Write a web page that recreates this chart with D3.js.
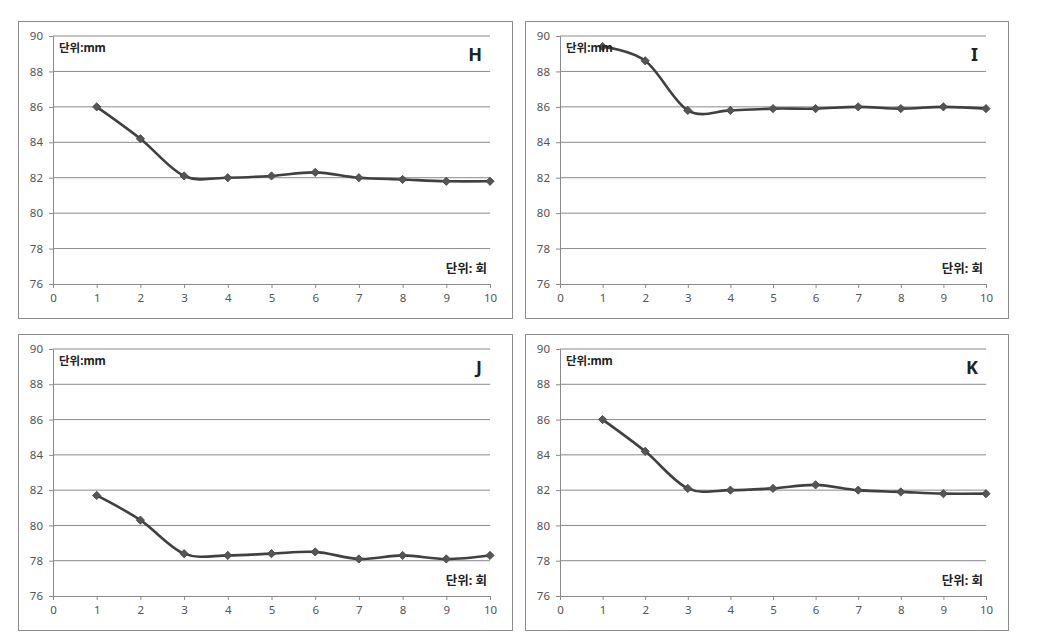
<!DOCTYPE html>
<html>
<head>
<meta charset="utf-8">
<script src="https://cdn.jsdelivr.net/npm/d3@7"></script>
<style>
  body { margin: 0; background: #fff; }
  svg text { font-family: "Noto Sans", "Noto Sans CJK KR", sans-serif; }
</style>
</head>
<body>
<svg id="chart" width="1053" height="635"></svg>
<script>
// data
const rounds = [1, 2, 3, 4, 5, 6, 7, 8, 9, 10];
const xTicks = [0, 1, 2, 3, 4, 5, 6, 7, 8, 9, 10];
const yTicks = [76, 78, 80, 82, 84, 86, 88, 90];
const panelNames = ['H', 'I', 'J', 'K'];
const valuesH = [86.0, 84.2, 82.1, 82.0, 82.1, 82.3, 82.0, 81.9, 81.8, 81.8];
const valuesI = [89.4, 88.6, 85.8, 85.8, 85.9, 85.9, 86.0, 85.9, 86.0, 85.9];
const valuesJ = [81.7, 80.3, 78.4, 78.3, 78.4, 78.5, 78.1, 78.3, 78.1, 78.3];
const valuesK = [86.0, 84.2, 82.1, 82.0, 82.1, 82.3, 82.0, 81.9, 81.8, 81.8];
const allValues = [valuesH, valuesI, valuesJ, valuesK];

// panel boxes on the page
const boxes = [
  { x: 18, y: 21, w: 494, h: 297 },
  { x: 525, y: 21, w: 483, h: 297 },
  { x: 18, y: 334, w: 494, h: 296 },
  { x: 525, y: 334, w: 483, h: 296 }
];
const margin = { top: 15, right: 22, bottom: 34, left: 35 };

const svg = d3.select('#chart');

boxes.forEach((b, i) => {
  const width = b.w - margin.left - margin.right;
  const height = b.h - margin.top - margin.bottom;

  const panel = svg.append('g').attr('transform', 'translate(' + b.x + ',' + b.y + ')');

  panel.append('rect')
    .attr('x', 0.5).attr('y', 0.5)
    .attr('width', b.w).attr('height', b.h)
    .attr('fill', '#fff')
    .attr('stroke', '#8c8c8c')
    .attr('stroke-width', 1);

  const g = panel.append('g').attr('transform', 'translate(' + margin.left + ',' + margin.top + ')');

  const x = d3.scaleLinear().domain([0, 10]).range([0, width]);
  const y = d3.scaleLinear().domain([76, 90]).range([height, 0]);

  // gridlines
  g.append('g')
    .selectAll('line')
    .data(yTicks.filter(t => t > 76))
    .join('line')
    .attr('x1', 0).attr('x2', width)
    .attr('y1', d => y(d)).attr('y2', d => y(d))
    .attr('stroke', '#8a8a8a')
    .attr('stroke-width', 1);

  // y axis
  const yAxis = g.append('g')
    .call(d3.axisLeft(y).tickValues(yTicks).tickSize(4).tickPadding(6));
  yAxis.select('.domain').attr('stroke', '#8a8a8a');
  yAxis.selectAll('.tick line').attr('stroke', '#8a8a8a');
  yAxis.selectAll('text').attr('fill', '#555').attr('font-size', '11.5px');

  // x axis
  const xAxis = g.append('g')
    .attr('transform', 'translate(0,' + height + ')')
    .call(d3.axisBottom(x).tickValues(xTicks).tickSize(4).tickPadding(6));
  xAxis.select('.domain').attr('stroke', '#8a8a8a');
  xAxis.selectAll('.tick line').attr('stroke', '#8a8a8a');
  xAxis.selectAll('text').attr('fill', '#555').attr('font-size', '11.5px');

  const pts = rounds.map((r, k) => ({ r: r, v: allValues[i][k] }));

  // smoothed line
  g.append('path')
    .datum(pts)
    .attr('fill', 'none')
    .attr('stroke', '#404040')
    .attr('stroke-width', 2.6)
    .attr('d', d3.line()
      .x(d => x(d.r))
      .y(d => y(d.v))
      .curve(d3.curveCardinal));

  // diamond markers (rotated squares)
  g.append('g')
    .selectAll('path')
    .data(pts)
    .join('path')
    .attr('transform', d => 'translate(' + x(d.r) + ',' + y(d.v) + ') rotate(45)')
    .attr('d', d3.symbol().type(d3.symbolSquare).size(34))
    .attr('fill', '#555')
    .attr('stroke', '#444')
    .attr('stroke-width', 0.8);

  // labels
  g.append('text')
    .attr('x', 6).attr('y', 16)
    .attr('font-size', '11.5px')
    .attr('font-weight', 'bold')
    .attr('fill', '#222')
    .text('단위:mm');

  g.append('text')
    .attr('x', width - 8).attr('y', 25)
    .attr('text-anchor', 'end')
    .attr('font-size', '18px')
    .attr('font-weight', 'bold')
    .attr('fill', '#222')
    .text(panelNames[i]);

  g.append('text')
    .attr('x', width - 3).attr('y', height - 11)
    .attr('text-anchor', 'end')
    .attr('font-size', '12.5px')
    .attr('font-weight', 'bold')
    .attr('fill', '#222')
    .text('단위: 회');
});
</script>
</body>
</html>
